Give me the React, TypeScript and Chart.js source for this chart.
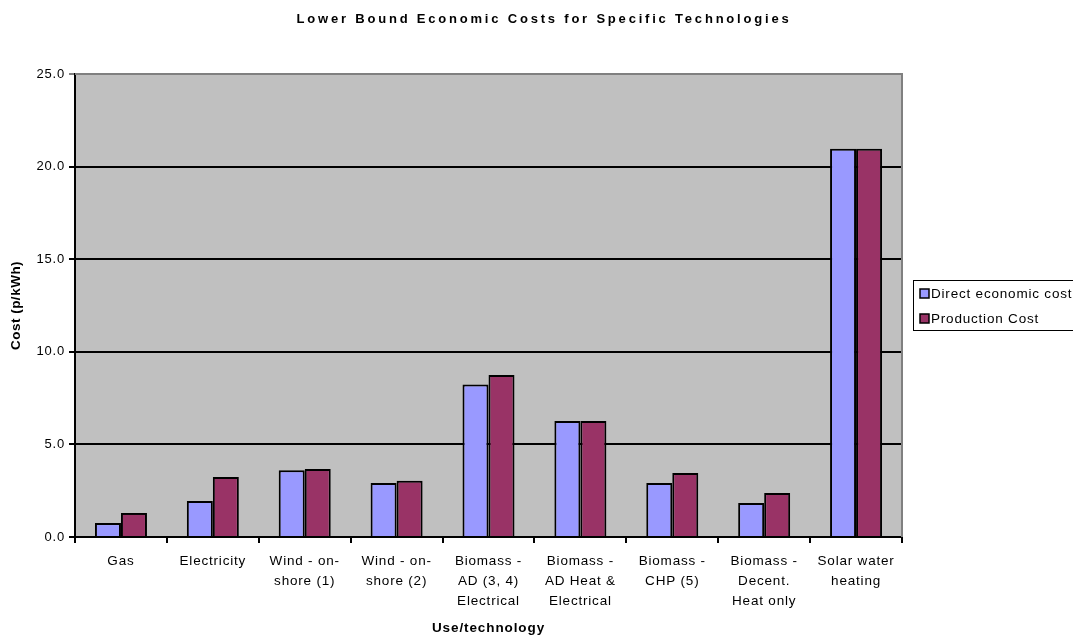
import React, { useEffect, useRef } from "react";
import { Chart, registerables } from "chart.js";

Chart.register(...registerables);

const categories: (string | string[])[] = [
  "Gas",
  "Electricity",
  ["Wind - on-", "shore (1)"],
  ["Wind - on-", "shore (2)"],
  ["Biomass -", "AD (3, 4)", "Electrical"],
  ["Biomass -", "AD Heat &", "Electrical"],
  ["Biomass -", "CHP (5)"],
  ["Biomass -", "Decent.", "Heat only"],
  ["Solar water", "heating"],
];
const directEconomicCost = [0.75, 1.95, 3.6, 2.92, 8.23, 6.26, 2.92, 1.84, 20.97];
const productionCost = [1.3, 3.24, 3.67, 3.04, 8.75, 6.26, 3.46, 2.38, 20.97];
const seriesNames = ["Direct economic cost", "Production Cost"];
const seriesColors = ["#9999FF", "#993366"];
const chartTitle = "Lower Bound Economic Costs for Specific Technologies";
const yTitle = "Cost (p/kWh)";
const xTitle = "Use/technology";

const FONT = "'Liberation Sans', Arial, sans-serif";

const framePlugin = {
  id: "frame",
  beforeUpdate(chart: any) {
    chart.ctx.letterSpacing = "0.8px";
  },
  beforeDraw(chart: any) {
    const { ctx, chartArea: a } = chart;
    ctx.letterSpacing = "0.8px";
    ctx.save();
    ctx.fillStyle = "#ffffff";
    ctx.fillRect(0, 0, chart.width, chart.height);
    ctx.fillStyle = "#C0C0C0";
    ctx.fillRect(a.left, a.top, a.right - a.left, a.bottom - a.top);
    ctx.restore();
  },
  beforeDatasetsDraw(chart: any) {
    const { ctx, chartArea: a } = chart;
    ctx.save();
    ctx.strokeStyle = "#808080";
    ctx.lineWidth = 2;
    ctx.beginPath();
    ctx.moveTo(a.left, a.top);
    ctx.lineTo(a.right, a.top);
    ctx.lineTo(a.right, a.bottom);
    ctx.stroke();
    ctx.restore();
  },
  afterDraw(chart: any) {
    const { ctx, chartArea: a } = chart;
    ctx.save();
    // title
    ctx.letterSpacing = "2.8px";
    ctx.fillStyle = "#000";
    ctx.font = `bold 13px ${FONT}`;
    ctx.textAlign = "center";
    ctx.textBaseline = "middle";
    ctx.fillText(chartTitle, 544, 19);
    // axis titles
    ctx.letterSpacing = "0.9px";
    ctx.font = `bold 13.5px ${FONT}`;
    ctx.fillText(xTitle, (a.left + a.right) / 2, 628);
    ctx.save();
    ctx.translate(16, (a.top + a.bottom) / 2);
    ctx.rotate(-Math.PI / 2);
    ctx.letterSpacing = "0.5px";
    ctx.fillText(yTitle, 0, 0);
    ctx.restore();
    // legend
    ctx.strokeStyle = "#000";
    ctx.lineWidth = 1;
    ctx.strokeRect(913.5, 280.5, 170, 50);
    ctx.letterSpacing = "0.8px";
    ctx.font = `13.5px ${FONT}`;
    ctx.textAlign = "left";
    const rows = [294, 319];
    seriesNames.forEach((name, i) => {
      const y = rows[i];
      ctx.fillStyle = seriesColors[i];
      ctx.fillRect(920, y - 5, 9, 9);
      ctx.strokeStyle = "#000";
      ctx.lineWidth = 1.5;
      ctx.strokeRect(920, y - 5, 9, 9);
      ctx.fillStyle = "#000";
      ctx.fillText(name, 931, y);
    });
    ctx.restore();
  },
};

export default function App() {
  const ref = useRef<HTMLCanvasElement>(null);
  useEffect(() => {
    document.body.style.margin = "0";
    const chart = new Chart(ref.current!, {
      type: "bar",
      data: {
        labels: categories,
        datasets: seriesNames.map((name, i) => ({
          label: name,
          data: i === 0 ? directEconomicCost : productionCost,
          backgroundColor: seriesColors[i],
          borderColor: "#000",
          borderWidth: 2,
          categoryPercentage: 0.566,
          barPercentage: 1,
        })),
      },
      options: {
        responsive: false,
        animation: false,
        devicePixelRatio: 1,
        layout: { padding: { top: 74, right: 171, left: 0, bottom: 0 } },
        plugins: {
          legend: { display: false },
          title: { display: false },
          tooltip: { enabled: false },
        },
        scales: {
          x: {
            afterFit(scale: any) {
              scale.height = 99;
            },
            grid: {
              display: true,
              drawOnChartArea: false,
              drawTicks: true,
              tickLength: 6,
              color: "#000",
              lineWidth: 2,
              offset: true,
            },
            border: { display: true, color: "#000", width: 2 },
            ticks: {
              color: "#000",
              font: { family: FONT, size: 13.5, lineHeight: "20px" },
              padding: 8,
              maxRotation: 0,
              autoSkip: false,
            },
          },
          y: {
            min: 0,
            max: 25,
            afterFit(scale: any) {
              scale.width = 75;
            },
            grid: {
              color: (c: any) => (c.tick && c.tick.value === 25 ? "#808080" : "#000"),
              lineWidth: 2,
              tickLength: 6,
            },
            border: { display: true, color: "#000", width: 2 },
            ticks: {
              stepSize: 5,
              color: "#000",
              padding: 4,
              font: { family: FONT, size: 13 },
              callback: (v: any) => Number(v).toFixed(1),
            },
          },
        },
      },
      plugins: [framePlugin],
    });
    return () => chart.destroy();
  }, []);
  return (
    <div style={{ position: "absolute", left: 0, top: 0, width: 1073, height: 636 }}>
      <canvas ref={ref} width={1073} height={636} style={{ width: 1073, height: 636 }} />
    </div>
  );
}
